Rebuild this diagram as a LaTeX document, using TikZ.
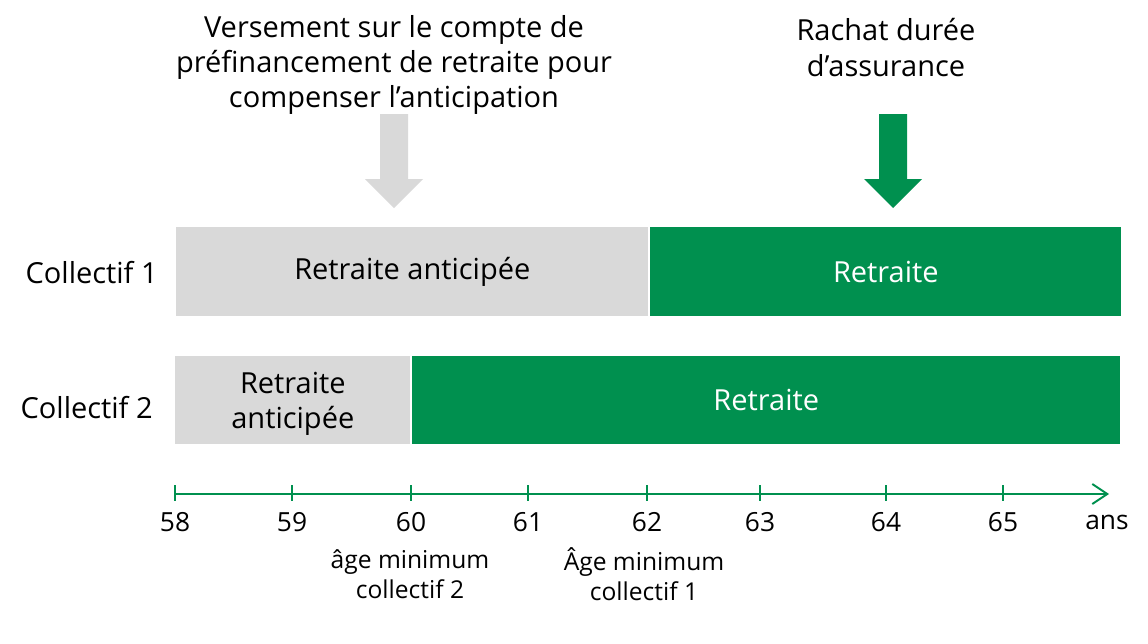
\documentclass[tikz,border=0pt]{standalone}
\usepackage{fontspec}
\setmainfont{Open Sans}
\usepackage{tikz}
\usetikzlibrary{arrows.meta,positioning}
\definecolor{retgreen}{HTML}{00904F}
\definecolor{antgray}{HTML}{D9D9D9}
\tikzset{
  bar/.style={anchor=north west,inner sep=0pt,align=center,font=\fontsize{16.5}{20}\selectfont},
  pre/.style={bar,fill=antgray,text=black},
  ret/.style={bar,fill=retgreen,text=white},
  head/.style={align=center,font=\fontsize{16.5}{20}\selectfont},
  rowlab/.style={anchor=east,inner sep=0pt,font=\fontsize{16.5}{20}\selectfont},
  axis/.style={-{Straight Barb[length=3mm,width=4mm]},line width=1.1pt,color=retgreen},
  tickmark/.style={line width=1.1pt,color=retgreen},
  ticklab/.style={font=\fontsize{15}{18}\selectfont},
  note/.style={align=center,font=\fontsize{14}{17}\selectfont},
}
\newcommand{\bigdown}[2]{%
  \fill[#1] (#2-14,114) -- (#2+14,114) -- (#2+14,179) -- (#2+29,179)
    -- (#2,208) -- (#2-29,179) -- (#2-14,179) -- cycle;}

\begin{document}
\begin{tikzpicture}[x=0.02cm,y=-0.02cm]
  \useasboundingbox (0,0) rectangle (1148,643);

  \node[head] (versement) at (394,65)
    {Versement sur le compte de\\préfinancement de retraite pour\\compenser l’anticipation};
  \node[head] (rachat) at (886,47.5) {Rachat durée\\d’assurance};
  \bigdown{antgray}{394}
  \bigdown{retgreen}{893}

  \node[rowlab] (col1) at (158,273) {Collectif 1};
  \node[pre,minimum width=9.44cm,minimum height=1.78cm] (pre1) at (176,227) {Retraite anticipée};
  \node[ret,minimum width=9.42cm,minimum height=1.78cm] (ret1) at (650,227) {Retraite};

  \node[rowlab] (col2) at (153,408) {Collectif 2};
  \node[pre,minimum width=4.70cm,minimum height=1.76cm,text depth=0pt] (pre2) at (175,356) {Retraite\\anticipée};
  \node[ret,minimum width=14.16cm,minimum height=1.76cm] (ret2) at (412,356) {Retraite};

  \coordinate (axstart) at (175,494);
  \coordinate (axend) at (1109,494);
  \draw[axis] (axstart) -- (axend);
  \foreach \x/\yr in {175/58,292/59,411/60,528/61,647/62,760/63,886/64,1003/65}{
    \draw[tickmark] (\x,485) -- (\x,501);
    \node[ticklab] (y\yr) at (\x,522) {\yr};
  }
  \node[ticklab] (ans) at (1107,522) {ans};

  \node[note] (min2) at (410,574) {âge minimum\\collectif 2};
  \node[note] (min1) at (644,574) {Âge minimum\\collectif 1};
\end{tikzpicture}
\end{document}
